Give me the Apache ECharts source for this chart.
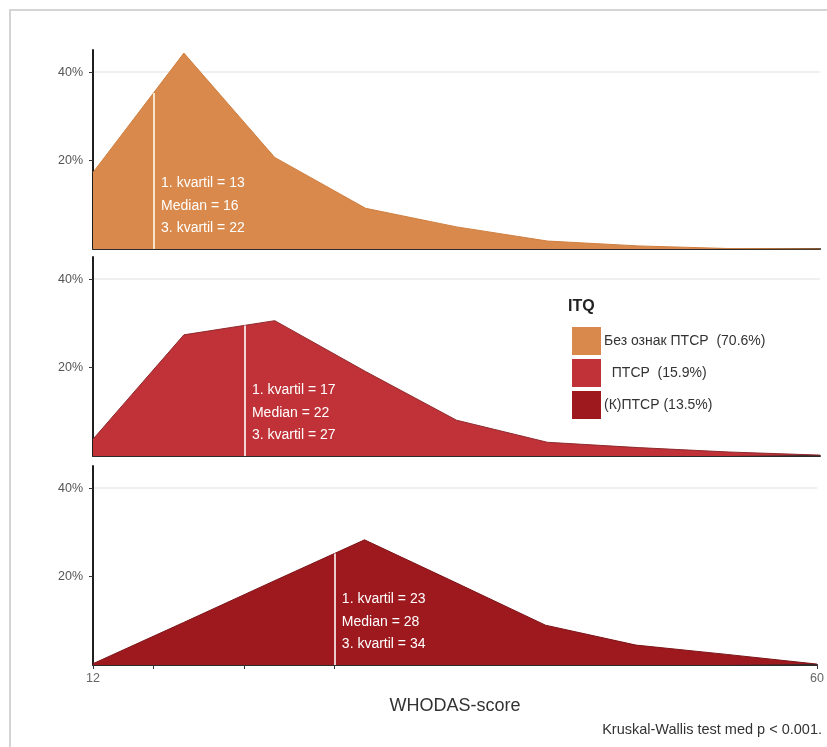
<!DOCTYPE html>
<html>
<head>
<meta charset="utf-8">
<script src="https://cdn.jsdelivr.net/npm/echarts@6/dist/echarts.min.js"></script>
<style>
  html, body { margin: 0; padding: 0; background: #fff; }
  #chart_container { width: 827px; height: 747px; }
</style>
</head>
<body>
<div id="chart_container"></div>
<script>
"use strict";

// WHODAS score bins (x) and share of each group (%)
const scores = [12, 18, 24, 30, 36, 42, 48, 54, 60];
const noPtsd = [17.3, 44.3, 20.7, 9.2, 5.0, 1.8, 0.7, 0.1, 0];
const ptsd = [3.8, 27.4, 30.6, 19.1, 8.1, 3.1, 1.9, 0.9, 0.2];
const cptsd = [0.3, 9.6, 19.0, 28.3, 18.7, 9.0, 4.5, 2.4, 0.2];

const groupNames = ['Без ознак ПТСР  (70.6%)', '  ПТСР  (15.9%)', '(К)ПТСР (13.5%)'];
const q1 = [13, 17, 23];
const medians = [16, 22, 28];
const q3 = [22, 27, 34];

const xTicks = [12, 16, 22, 28, 60];
const xLabels = [12, 60];

const colors = ['#d8894b', '#c03237', '#9e191e'];
const edgeColors = ['#cf7f40', '#8e2a2e', '#7c1418'];
const medianColors = ['#f6e3c8', '#f3d2d2', '#eccaca'];
const groups = [noPtsd, ptsd, cptsd];

let heightAt = (vals, x) => {
    for (let i = 0; i < scores.length - 1; i++) {
        if (x >= scores[i] && x <= scores[i + 1]) {
            let t = (x - scores[i]) / (scores[i + 1] - scores[i]);
            return vals[i] + t * (vals[i + 1] - vals[i]);
        }
    }
    return 0;
}

const fontFam = '"Liberation Sans", Arial, sans-serif';
const gridTops = [50, 257, 466];

let pageLoaded = () => {
    let chartDom = document.getElementById('chart_container');
    let myChart = echarts.init(chartDom, null, { renderer: 'canvas' });

    let grids = gridTops.map(t => ({ left: 93, right: 7, top: t, height: 199 }));

    let xAxes = gridTops.map((t, i) => {
        let last = i === 2;
        return {
            type: 'value', gridIndex: i, min: 12, max: 60,
            splitLine: { show: false },
            axisLine: { show: true, lineStyle: { color: '#2b2b2b', width: 2 } },
            axisTick: { show: last, customValues: xTicks, length: 4, lineStyle: { color: '#333' } },
            axisLabel: { show: last, customValues: xLabels, color: '#666', fontSize: 12.5, margin: 7, fontFamily: fontFam },
            name: last ? 'WHODAS-score' : '',
            nameLocation: 'middle', nameGap: 32,
            nameTextStyle: { color: '#333', fontSize: 18, fontFamily: fontFam }
        };
    });

    let yAxes = gridTops.map((t, i) => ({
        type: 'value', gridIndex: i, min: 0, max: 45, interval: 20,
        axisLine: { show: true, lineStyle: { color: '#1e1e1e', width: 2 } },
        axisTick: { show: true, customValues: [20, 40], length: 4, lineStyle: { color: '#333' } },
        axisLabel: {
            customValues: [20, 40], color: '#555', fontSize: 12.5, margin: 10, fontFamily: fontFam,
            formatter: v => v + '%'
        },
        splitLine: {
            show: true,
            lineStyle: { color: ['rgba(0,0,0,0)', '#ebebeb', '#ebebeb', 'rgba(0,0,0,0)'], width: 1.5 }
        }
    }));

    let series = groups.map((vals, i) => ({
        name: groupNames[i],
        type: 'line',
        xAxisIndex: i, yAxisIndex: i,
        data: scores.map((s, k) => [s, vals[k]]),
        symbol: 'none',
        color: colors[i],
        lineStyle: { color: edgeColors[i], width: 1 },
        areaStyle: { color: colors[i], opacity: 1 },
        animation: false,
        markLine: {
            silent: true, symbol: 'none', animation: false,
            label: { show: false },
            lineStyle: { color: medianColors[i], width: 2, type: 'solid' },
            data: [[{ coord: [medians[i], 0] }, { coord: [medians[i], heightAt(vals, medians[i])] }]]
        },
        markPoint: {
            silent: true, animation: false,
            symbol: 'rect', symbolSize: 1,
            itemStyle: { color: 'rgba(0,0,0,0)' },
            label: {
                show: true, position: 'right', distance: 7,
                color: '#fff', fontSize: 14, lineHeight: 22.5, align: 'left',
                fontFamily: fontFam,
                formatter: () => [
                    '1. kvartil = ' + q1[i],
                    'Median = ' + medians[i],
                    '3. kvartil = ' + q3[i]
                ].join('\n')
            },
            data: [{ coord: [medians[i], 9.7] }]
        }
    }));

    let option = {
        backgroundColor: '#fff',
        animation: false,
        textStyle: { fontFamily: fontFam },
        grid: grids,
        xAxis: xAxes,
        yAxis: yAxes,
        legend: {
            orient: 'vertical',
            left: 572, top: 327, padding: 0,
            itemWidth: 29, itemHeight: 28, itemGap: 4,
            icon: 'rect',
            selectedMode: false,
            textStyle: { color: '#333', fontSize: 14, fontFamily: fontFam, padding: [0, 0, 0, -2] },
            data: groupNames
        },
        graphic: [
            {
                type: 'rect', silent: true, z: -10,
                shape: { x: 10, y: 10, width: 840, height: 760 },
                style: { fill: 'none', stroke: '#d4d4d4', lineWidth: 2 }
            },
            {
                type: 'text', left: 568, top: 299,
                style: { text: 'ITQ', fill: '#222', fontSize: 16, fontWeight: 'bold', fontFamily: fontFam }
            },
            {
                type: 'text', right: 5, top: 722,
                style: { text: 'Kruskal-Wallis test med p < 0.001.', fill: '#333', fontSize: 14.5, fontFamily: fontFam }
            }
        ],
        series: series
    };

    myChart.setOption(option);
    console.log('chart ready');
}

window.addEventListener('load', pageLoaded, false);
</script>
</body>
</html>
